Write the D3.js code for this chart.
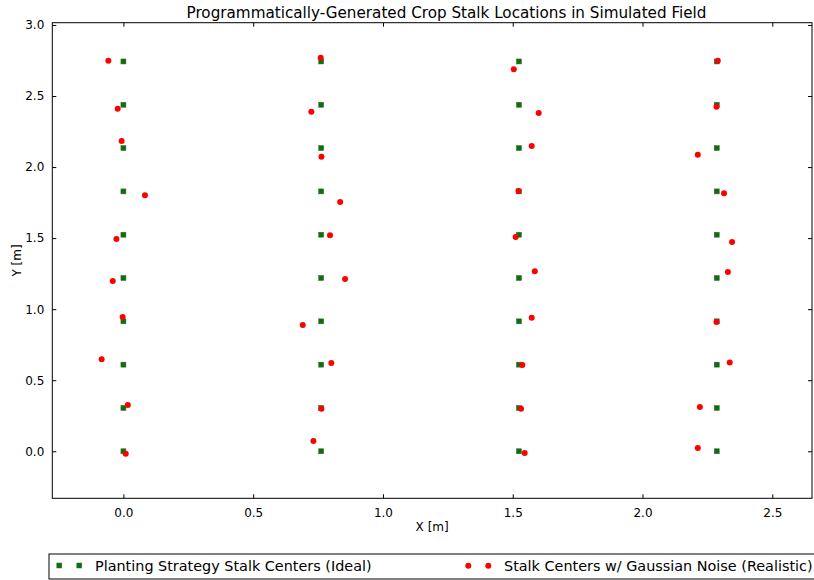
<!DOCTYPE html>
<html>
<head>
<meta charset="utf-8">
<script src="https://cdn.jsdelivr.net/npm/d3@7"></script>
<style>
  body { margin: 0; background: #fff; }
  svg { display: block; font-family: "DejaVu Sans", sans-serif; }
</style>
</head>
<body>
<svg id="chart" width="814" height="580"></svg>
<script>
// row centres (30 in spacing) and stalk spacing along the row (1 ft)
const rowX = [0, 0.762, 1.524, 2.286];
const stalkY = [0, 0.3048, 0.6096, 0.9144, 1.2192, 1.524, 1.8288, 2.1336, 2.4384, 2.7432];

// noisy stalk positions, one array per row
const noisyX = [
  [-0.058, -0.022, -0.007, 0.083, -0.027, -0.041, -0.003, -0.084, 0.017, 0.009],
  [0.760, 0.724, 0.763, 0.835, 0.796, 0.854, 0.691, 0.801, 0.763, 0.732],
  [1.504, 1.600, 1.573, 1.522, 1.511, 1.585, 1.573, 1.537, 1.532, 1.546],
  [2.290, 2.285, 2.213, 2.314, 2.345, 2.329, 2.285, 2.336, 2.221, 2.213]
];
const noisyY = [
  [2.749, 2.411, 2.184, 1.801, 1.494, 1.198, 0.945, 0.647, 0.326, -0.017],
  [2.770, 2.390, 2.073, 1.754, 1.520, 1.212, 0.889, 0.621, 0.300, 0.072],
  [2.688, 2.381, 2.148, 1.832, 1.508, 1.267, 0.940, 0.607, 0.300, -0.012],
  [2.749, 2.425, 2.087, 1.816, 1.473, 1.262, 0.910, 0.624, 0.312, 0.023]
];

const xTicks = [0, 0.5, 1.0, 1.5, 2.0, 2.5];
const yTicks = [0, 0.5, 1.0, 1.5, 2.0, 2.5, 3.0];
const legendLabels = ["Planting Strategy Stalk Centers (Ideal)", "Stalk Centers w/ Gaussian Noise (Realistic)"];

const svg = d3.select("#chart");
const plot = {left: 52.3, right: 812, top: 22.7, bottom: 498.3};

const x = d3.scaleLinear().domain([-0.274, 2.653]).range([plot.left, plot.right]);
const y = d3.scaleLinear().domain([-0.331, 3.016]).range([plot.bottom, plot.top]);

const ideal = [];
rowX.forEach(rx => stalkY.forEach(sy => ideal.push({x: rx, y: sy})));
const noisy = [];
noisyX.forEach((row, i) => row.forEach((v, j) => noisy.push({x: v, y: noisyY[i][j]})));

// axes, matplotlib classic: ticks inside, on all four sides
const fmt = d3.format(".1f");
svg.append("g")
  .attr("transform", `translate(0,${plot.bottom})`)
  .call(d3.axisBottom(x).tickValues(xTicks).tickFormat(fmt).tickSizeInner(-4).tickSizeOuter(0).tickPadding(10));
svg.append("g")
  .attr("transform", `translate(0,${plot.top})`)
  .call(d3.axisTop(x).tickValues(xTicks).tickFormat("").tickSizeInner(-4).tickSizeOuter(0));
svg.append("g")
  .attr("transform", `translate(${plot.left},0)`)
  .call(d3.axisLeft(y).tickValues(yTicks).tickFormat(fmt).tickSizeInner(-4).tickSizeOuter(0).tickPadding(8));
svg.append("g")
  .attr("transform", `translate(${plot.right},0)`)
  .call(d3.axisRight(y).tickValues(yTicks).tickFormat("").tickSizeInner(-4).tickSizeOuter(0));

svg.selectAll(".domain").remove();
svg.selectAll(".tick text").attr("font-size", 12).attr("fill", "#000").attr("font-family", "DejaVu Sans");
svg.selectAll(".tick line").attr("stroke", "#000");

svg.append("rect")
  .attr("x", plot.left).attr("y", plot.top)
  .attr("width", plot.right - plot.left).attr("height", plot.bottom - plot.top)
  .attr("fill", "none").attr("stroke", "#000").attr("stroke-width", 1);

// marks
svg.append("g").selectAll("rect").data(ideal).enter().append("rect")
  .attr("x", d => x(d.x) - 2.5).attr("y", d => y(d.y) - 2.5)
  .attr("width", 5).attr("height", 5)
  .attr("fill", "#007800").attr("stroke", "#555").attr("stroke-width", 0.5);

svg.append("g").selectAll("circle").data(noisy).enter().append("circle")
  .attr("cx", d => x(d.x)).attr("cy", d => y(d.y))
  .attr("r", 3).attr("fill", "#ff0000");

// titles
svg.append("text").attr("x", 446.5).attr("y", 18)
  .attr("text-anchor", "middle").attr("font-size", 15.2)
  .text("Programmatically-Generated Crop Stalk Locations in Simulated Field");
svg.append("text").attr("x", (plot.left + plot.right) / 2).attr("y", 531)
  .attr("text-anchor", "middle").attr("font-size", 12)
  .text("X [m]");
svg.append("text").attr("transform", `translate(21,${(plot.top + plot.bottom) / 2}) rotate(-90)`)
  .attr("text-anchor", "middle").attr("font-size", 12)
  .text("Y [m]");

// legend
const lg = svg.append("g");
lg.append("rect").attr("x", 49).attr("y", 554).attr("width", 800).attr("height", 25)
  .attr("fill", "#fff").attr("stroke", "#000").attr("stroke-width", 1);
[59.3, 79.3].forEach(cx => lg.append("rect")
  .attr("x", cx - 2.5).attr("y", 565.5 - 2.5).attr("width", 5).attr("height", 5)
  .attr("fill", "#007800").attr("stroke", "#555").attr("stroke-width", 0.5));
[468.3, 488.3].forEach(cx => lg.append("circle")
  .attr("cx", cx).attr("cy", 565.7).attr("r", 3).attr("fill", "#ff0000"));
lg.append("text").attr("x", 95).attr("y", 571).attr("font-size", 14.4).text(legendLabels[0]);
lg.append("text").attr("x", 504).attr("y", 571).attr("font-size", 14.4).text(legendLabels[1]);
</script>
</body>
</html>
